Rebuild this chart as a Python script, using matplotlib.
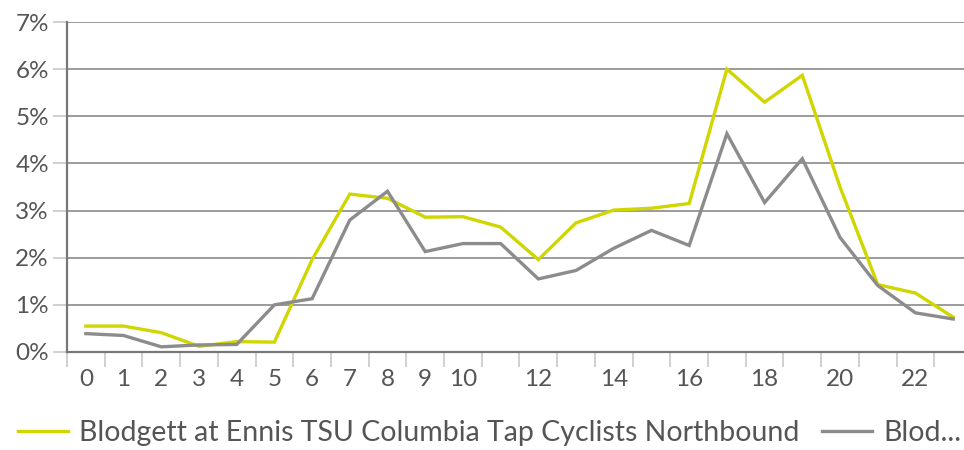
import numpy as np
import matplotlib
matplotlib.use("Agg")
import matplotlib.pyplot as plt
from matplotlib.ticker import FixedLocator, FuncFormatter

plt.rcParams['font.family'] = ['Lato', 'DejaVu Sans']

# hourly share of daily counts (%)
hours = list(range(24))
northbound = [0.55, 0.55, 0.41, 0.12, 0.22, 0.21, 1.96, 3.35, 3.26, 2.86, 2.87, 2.65,
              1.96, 2.74, 3.01, 3.05, 3.15, 6.0, 5.3, 5.87, 3.5, 1.43, 1.25, 0.74]
second = [0.39, 0.35, 0.11, 0.15, 0.16, 1.0, 1.13, 2.8, 3.41, 2.13, 2.3, 2.3,
          1.55, 1.73, 2.2, 2.58, 2.26, 4.63, 3.17, 4.1, 2.43, 1.41, 0.83, 0.7]
tick_labels = ['0', '1', '2', '3', '4', '5', '6', '7', '8', '9', '10', '', '12', '',
               '14', '', '16', '', '18', '', '20', '', '22', '']
y_ticks = [0, 1, 2, 3, 4, 5, 6, 7]
legend_labels = ['Blodgett at Ennis TSU Columbia Tap Cyclists Northbound', 'Blod...']

yellow = '#cfd600'
grey = '#8c8c8c'
text_col = '#555555'

fig = plt.figure(figsize=(9.64, 4.5), dpi=100)
# axes runs past the right edge like the original
ax = fig.add_axes([67/964, 98/450, 905/964, 330/450])

l1, = ax.plot(hours, northbound, color=yellow, lw=2.4, solid_joinstyle='miter')
l2, = ax.plot(hours, second, color=grey, lw=2.4, solid_joinstyle='miter')

ax.set_xlim(-0.5, 23.5)
ax.set_ylim(0, 7)
ax.set_yticks(y_ticks)
ax.yaxis.set_major_formatter(FuncFormatter(lambda v, p: '%d%%' % v))
ax.grid(axis='y', color='#8a8a8a', lw=1.2)
ax.set_axisbelow(True)

# tick marks on category boundaries, labels on centers
ax.xaxis.set_major_locator(FixedLocator(np.arange(-0.5, 24, 1)))
ax.xaxis.set_major_formatter(FuncFormatter(lambda v, p: ''))
ax.xaxis.set_minor_locator(FixedLocator(hours))
ax.set_xticklabels(tick_labels, minor=True)
ax.tick_params(axis='x', which='major', length=11, width=1.2, color='#c8c8c8')
ax.tick_params(axis='x', which='minor', length=0, pad=12, labelsize=17.5, labelcolor=text_col)
ax.tick_params(axis='y', length=10, width=1.2, color='#c8c8c8', pad=3,
               labelsize=17.5, labelcolor=text_col)

for s in ['top', 'right']:
    ax.spines[s].set_visible(False)
ax.spines['left'].set_color('#777777')
ax.spines['left'].set_linewidth(1.6)
ax.spines['bottom'].set_color('#777777')
ax.spines['bottom'].set_linewidth(1.6)

fig.legend([l1, l2], legend_labels, loc='center left', bbox_to_anchor=(18/964, 17/450),
           ncol=2, frameon=False, fontsize=20.5, handlelength=1.75, handletextpad=0.4,
           columnspacing=0.8, labelcolor=text_col, borderaxespad=0, borderpad=0)

fig.savefig('out.png', dpi=100)
